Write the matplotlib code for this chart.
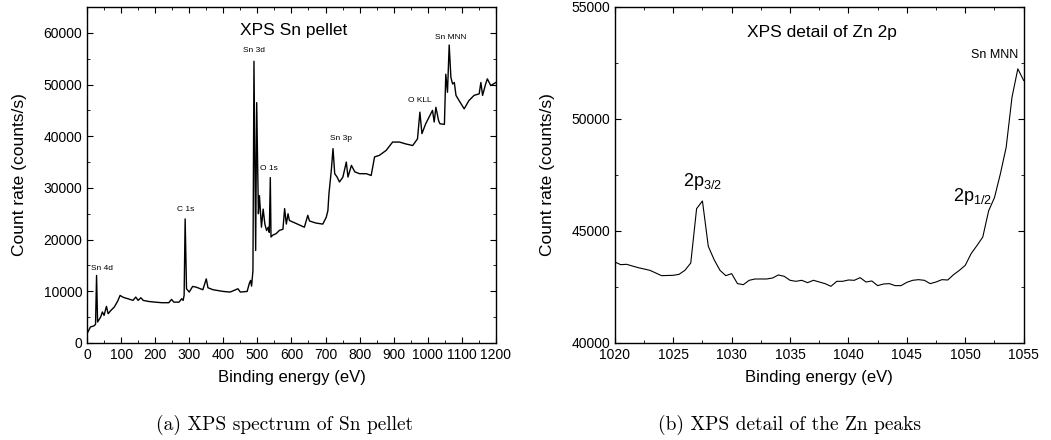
import matplotlib
matplotlib.use("Agg")
import matplotlib.pyplot as plt
from matplotlib.ticker import MultipleLocator

plt.rcParams['font.family'] = ['Liberation Sans', 'DejaVu Sans']
plt.rcParams['mathtext.fontset'] = 'custom'
plt.rcParams['mathtext.rm'] = 'Liberation Sans'
plt.rcParams['mathtext.it'] = 'Liberation Sans'

# survey spectrum of the Sn pellet
survey_energy = [0, 5, 10, 20, 25, 28, 31, 40, 45, 50, 57, 62, 70, 80, 90, 97,
                 105, 110, 120, 135, 143, 150, 158, 165, 180, 200, 220, 240, 248,
                 255, 270, 278, 282, 285, 288, 292, 300, 310, 320, 340, 350, 355,
                 370, 400, 420, 443, 450, 470, 476, 480, 483, 487, 490, 495, 498,
                 503, 506, 512, 517, 522, 527, 532, 535, 538, 540, 545, 555, 565,
                 575, 580, 585, 590, 594, 604, 624, 638, 648, 653, 672, 692, 702,
                 707, 710, 714, 717, 722, 727, 734, 741, 751, 761, 766, 776, 786,
                 800, 820, 834, 844, 858, 878, 897, 917, 936, 956, 970, 977, 983,
                 994, 1004, 1014, 1019, 1024, 1032, 1036, 1049, 1053, 1058, 1063,
                 1068, 1073, 1078, 1083, 1092, 1107, 1121, 1136, 1151, 1156, 1161,
                 1170, 1175, 1185, 1200]
survey_counts = [1800, 2450, 3100, 3300, 3600, 13060, 4050, 5020, 6000, 5340, 7080,
                 5660, 6300, 6950, 8100, 9200, 8880, 8750, 8560, 8240, 8880, 8240,
                 8750, 8240, 8040, 7900, 7790, 7790, 8430, 7900, 7900, 8560, 8240,
                 9200, 24000, 10490, 9850, 10940, 10810, 10300, 12400, 10680, 10300,
                 9970, 9850, 10490, 9850, 9970, 11450, 12100, 11000, 14000, 54500,
                 17900, 46500, 25000, 28500, 22400, 25900, 23000, 21750, 22400, 21400,
                 32000, 20500, 20850, 21150, 21800, 22000, 26000, 23000, 25000, 23700,
                 23400, 22800, 22400, 24700, 23600, 23200, 23000, 24300, 25600, 28800,
                 31400, 33400, 37600, 32750, 32100, 31150, 32100, 35000, 32100, 34360,
                 33100, 32750, 32750, 32400, 36000, 36300, 37260, 38870, 38870, 38500,
                 38200, 39500, 44650, 40500, 42400, 43700, 45000, 42750, 45600, 43000,
                 42400, 42300, 52000, 48500, 57650, 51400, 50100, 50400, 47900, 46900,
                 45300, 46900, 47900, 48200, 50400, 47900, 50100, 51100, 49800, 50400]

survey_labels = ["Sn 4d", "C 1s", "Sn 3d", "O 1s", "Sn 3p", "O KLL", "Sn MNN"]
survey_label_x = [43, 288, 490, 535, 745, 977, 1068]
survey_label_y = [14480, 25870, 56560, 33780, 39570, 46900, 59070]

# detail of the Zn 2p region
zn_energy = [1020, 1020.5, 1021, 1022, 1023, 1024, 1025, 1025.5, 1026, 1026.5,
             1027, 1027.5, 1028, 1028.5, 1029, 1029.5, 1030, 1030.5, 1031, 1031.5,
             1032, 1033, 1033.5, 1034, 1034.5, 1035, 1035.5, 1036, 1036.5, 1037,
             1037.5, 1038, 1038.5, 1039, 1039.5, 1040, 1040.5, 1041, 1041.5, 1042,
             1042.5, 1043, 1043.5, 1044, 1044.5, 1045, 1045.5, 1046, 1046.5, 1047,
             1047.5, 1048, 1048.5, 1049, 1049.5, 1050, 1050.5, 1051, 1051.5, 1052,
             1052.5, 1053, 1053.5, 1054, 1054.5, 1055]
zn_counts = [43616, 43497, 43512, 43363, 43244, 43006, 43021, 43065, 43244, 43571,
             45997, 46339, 44315, 43720, 43244, 43006, 43095, 42649, 42604, 42798,
             42857, 42857, 42900, 43036, 42976, 42798, 42753, 42798, 42693, 42798,
             42723, 42649, 42530, 42753, 42753, 42812, 42798, 42917, 42723, 42768,
             42560, 42634, 42649, 42560, 42560, 42708, 42798, 42827, 42798, 42649,
             42723, 42827, 42812, 43051, 43244, 43467, 43988, 44350, 44732, 45900,
             46490, 47540, 48730, 50970, 52240, 51720]

fig = plt.figure(figsize=(10.51, 4.4), dpi=100)
ax1 = fig.add_axes([0.0828, 0.2205, 0.389, 0.7636])
ax2 = fig.add_axes([0.585, 0.2205, 0.389, 0.7636])

for ax in (ax1, ax2):
    ax.tick_params(which='both', direction='in', top=True, right=True, labelsize=10)
    ax.tick_params(which='major', length=4)
    ax.tick_params(which='minor', length=2.5)
    for s in ax.spines.values():
        s.set_linewidth(1.0)

ax1.plot(survey_energy, survey_counts, color='black', linewidth=1.0)
ax1.set_xlim(0, 1200)
ax1.set_ylim(0, 65000)
ax1.xaxis.set_major_locator(MultipleLocator(100))
ax1.xaxis.set_minor_locator(MultipleLocator(50))
ax1.yaxis.set_major_locator(MultipleLocator(10000))
ax1.yaxis.set_minor_locator(MultipleLocator(5000))
ax1.set_xlabel("Binding energy (eV)", fontsize=12, labelpad=6)
ax1.set_ylabel("Count rate (counts/s)", fontsize=12.5, labelpad=12)
ax1.text(607, 60400, "XPS Sn pellet", fontsize=12.5, ha='center', va='center')
for lab, x, y in zip(survey_labels, survey_label_x, survey_label_y):
    ax1.text(x, y, lab, fontsize=6, ha='center', va='center')

ax2.plot(zn_energy, zn_counts, color='black', linewidth=0.8)
ax2.set_xlim(1020, 1055)
ax2.set_ylim(40000, 55000)
ax2.xaxis.set_major_locator(MultipleLocator(5))
ax2.xaxis.set_minor_locator(MultipleLocator(2.5))
ax2.yaxis.set_major_locator(MultipleLocator(5000))
ax2.yaxis.set_minor_locator(MultipleLocator(2500))
ax2.set_xlabel("Binding energy (eV)", fontsize=12, labelpad=6)
ax2.set_ylabel("Count rate (counts/s)", fontsize=12.5, labelpad=12)
ax2.text(1037.7, 53840, "XPS detail of Zn 2p", fontsize=12.5, ha='center', va='center')
ax2.text(1052.5, 52860, "Sn MNN", fontsize=9, ha='center', va='center')
ax2.text(1027.5, 47190, r"2p$_{3/2}$", fontsize=13, ha='center', va='center')
ax2.text(1050.6, 46520, r"2p$_{1/2}$", fontsize=13, ha='center', va='center')

# subfigure captions
fig.text(0.2707, 0.034, "(a) XPS spectrum of Sn pellet", family='cmr10',
         fontsize=14, ha='center', va='center')
fig.text(0.7512, 0.034, "(b) XPS detail of the Zn peaks", family='cmr10',
         fontsize=14, ha='center', va='center')

fig.savefig("out.png", dpi=100)
